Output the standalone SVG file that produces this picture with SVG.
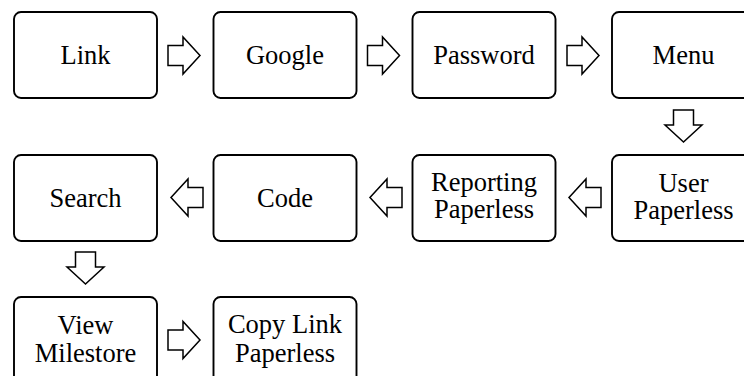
<svg xmlns="http://www.w3.org/2000/svg" xmlns:xlink="http://www.w3.org/1999/xlink" width="744" height="376" viewBox="0 0 744 376">
  <style>
    .box { fill: #ffffff; stroke: #000000; stroke-width: 1.9; }
    .lbl { font-family: "Liberation Serif", "Times New Roman", serif; font-size: 26.5px; fill: #000000; text-anchor: middle; }
    .arrow { fill: #ffffff; stroke: #000000; stroke-width: 1.5; stroke-linejoin: miter; }
  </style>
  <defs>
    <!-- block arrow pointing right, origin at tail middle -->
    <path id="blockArrow" class="arrow" d="M0,-10 H15 V-18.5 L32,0 L15,18.5 V10 H0 Z"/>
  </defs>
  <rect width="744" height="376" fill="#ffffff"/>

  <!-- row 1 -->
  <g id="link">
    <rect class="box" x="14" y="12" width="143" height="86" rx="7"/>
    <text class="lbl" x="85.5" y="64">Link</text>
  </g>
  <g id="google">
    <rect class="box" x="213.5" y="12" width="143" height="86" rx="7"/>
    <text class="lbl" x="285" y="64">Google</text>
  </g>
  <g id="password">
    <rect class="box" x="412.5" y="12" width="143" height="86" rx="7"/>
    <text class="lbl" x="484" y="64">Password</text>
  </g>
  <g id="menu">
    <rect class="box" x="612" y="12" width="143" height="86" rx="7"/>
    <text class="lbl" x="683.5" y="64">Menu</text>
  </g>

  <!-- row 2 -->
  <g id="search">
    <rect class="box" x="14" y="155" width="143" height="86" rx="7"/>
    <text class="lbl" x="85.5" y="207">Search</text>
  </g>
  <g id="code">
    <rect class="box" x="213.5" y="155" width="143" height="86" rx="7"/>
    <text class="lbl" x="285" y="207">Code</text>
  </g>
  <g id="reporting-paperless">
    <rect class="box" x="412.5" y="155" width="143" height="86" rx="7"/>
    <text class="lbl" x="484" y="190.5">Reporting</text>
    <text class="lbl" x="484" y="218">Paperless</text>
  </g>
  <g id="user-paperless">
    <rect class="box" x="612" y="155" width="143" height="86" rx="7"/>
    <text class="lbl" x="683.5" y="191.5">User</text>
    <text class="lbl" x="683.5" y="219">Paperless</text>
  </g>

  <!-- row 3 -->
  <g id="view-milestore">
    <rect class="box" x="14" y="297" width="143" height="86" rx="7"/>
    <text class="lbl" x="85.5" y="334">View</text>
    <text class="lbl" x="85.5" y="361.5">Milestore</text>
  </g>
  <g id="copy-link-paperless">
    <rect class="box" x="213.5" y="297" width="143" height="86" rx="7"/>
    <text class="lbl" x="285" y="333">Copy Link</text>
    <text class="lbl" x="285" y="361.5">Paperless</text>
  </g>

  <!-- connectors -->
  <g id="connectors">
    <use xlink:href="#blockArrow" transform="translate(168,55.5)"/>
    <use xlink:href="#blockArrow" transform="translate(367.5,55.5)"/>
    <use xlink:href="#blockArrow" transform="translate(567,55.5)"/>
    <use xlink:href="#blockArrow" transform="translate(683.5,110) rotate(90)"/>
    <use xlink:href="#blockArrow" transform="translate(601,197.5) scale(-1,1)"/>
    <use xlink:href="#blockArrow" transform="translate(402,197.5) scale(-1,1)"/>
    <use xlink:href="#blockArrow" transform="translate(203,197.5) scale(-1,1)"/>
    <use xlink:href="#blockArrow" transform="translate(85.5,252) rotate(90)"/>
    <use xlink:href="#blockArrow" transform="translate(168,340)"/>
  </g>
</svg>
